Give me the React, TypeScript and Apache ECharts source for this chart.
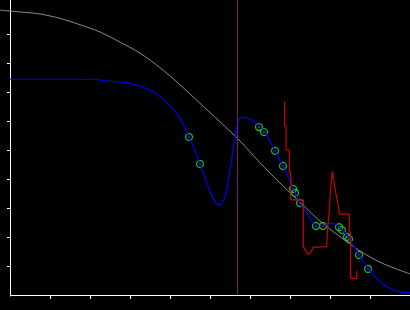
import React, { useEffect, useRef } from "react";
import * as echarts from "echarts";

// Gray reference curve
const grayX = [-0.25, 0.25, 0.75, 1.25, 1.75, 2.25, 2.75, 3.25, 3.75, 4.25, 4.75, 5.25, 5.75, 6.25, 6.75, 7.25, 7.75, 8.25, 8.75, 9.25, 9.75, 10];
const grayY = [9.82, 9.76, 9.69, 9.54, 9.32, 9.07, 8.72, 8.34, 7.84, 7.25, 6.61, 5.97, 5.31, 4.56, 3.86, 3.2, 2.55, 2.01, 1.52, 1.13, 0.85, 0.73];

// Blue fitted curve
const blueX = [0, 1, 2, 2.5, 3, 3.5, 3.75, 4, 4.25, 4.5, 4.75, 4.875, 5, 5.125, 5.25, 5.375, 5.45, 5.525, 5.6, 5.675, 5.75, 5.85, 6, 6.2, 6.375, 6.5, 6.625, 6.75, 6.875, 7.075, 7.25, 7.5, 7.65, 7.825, 8, 8.15, 8.25, 8.375, 8.5, 8.625, 8.75, 8.875, 9, 9.25, 9.5, 9.75, 10];
const blueY = [7.44, 7.44, 7.44, 7.37, 7.3, 7.07, 6.84, 6.52, 6.09, 5.38, 4.52, 4.03, 3.56, 3.22, 3.1, 3.39, 3.86, 4.54, 5.23, 5.8, 6.09, 6.13, 6.06, 5.86, 5.63, 5.31, 4.97, 4.63, 4.33, 3.66, 3.17, 2.66, 2.38, 2.38, 2.47, 2.43, 2.31, 2.14, 1.9, 1.62, 1.33, 1.07, 0.83, 0.46, 0.23, 0.11, 0.08];

// Red step-like line
const redX = [6.8625, 6.8625, 6.9, 6.9, 6.9825, 6.9825, 7.0175, 7.0175, 7.3325, 7.3325, 7.4, 7.4575, 7.5125, 7.575, 7.9175, 7.9375, 7.9825, 8.0125, 8.0575, 8.1, 8.15, 8.2, 8.2375, 8.4825, 8.4825, 8.5125, 8.5125, 8.6675, 8.6675];
const redY = [6.67, 5.84, 5.84, 5.0, 5.0, 4.24, 4.24, 3.28, 3.28, 1.67, 1.52, 1.4, 1.45, 1.64, 1.67, 2.24, 2.93, 3.62, 4.26, 3.93, 3.48, 3.14, 2.79, 2.79, 2.17, 2.17, 0.57, 0.57, 0.83];

// Green observation points
const ptsX = [4.475, 4.75, 6.225, 6.35, 6.625, 6.825, 7.075, 7.125, 7.25, 7.65, 7.825, 8.225, 8.3, 8.425, 8.475, 8.725, 8.95];
const ptsY = [5.45, 4.52, 5.79, 5.62, 4.97, 4.45, 3.66, 3.52, 3.17, 2.38, 2.38, 2.34, 2.24, 2.0, 1.93, 1.38, 0.9];

const markerX = 5.675;
const tickValues = [1, 2, 3, 4, 5, 6, 7, 8, 9];
const xStart = 0;
const xEnd = 10;
const unitPx = 29;
const baseY = -0.5 / unitPx;

const zip = (xs: number[], ys: number[]) => xs.map((x, i) => [x, ys[i]]);

export default function App() {
  const ref = useRef<HTMLDivElement>(null);
  useEffect(() => {
    if (!ref.current) return;
    const chart = echarts.init(ref.current, null, { renderer: "svg" });
    chart.setOption({
      animation: false,
      backgroundColor: "#000000",
      grid: { left: 0, right: 0, top: 0, bottom: 14, containLabel: false },
      xAxis: {
        type: "value",
        min: -0.25,
        max: 10,
        splitLine: { show: false },
        axisLabel: { show: false },
        axisLine: { show: false, onZero: true },
        axisTick: { show: true, length: 4, customValues: tickValues, lineStyle: { color: "#ffffff", width: 1 } },
      },
      yAxis: {
        type: "value",
        min: -1 / unitPx,
        max: 295 / unitPx,
        splitLine: { show: false },
        axisLabel: { show: false },
        axisLine: { show: true, onZero: true, lineStyle: { color: "#ffffff", width: 1 } },
        axisTick: { show: true, length: 3, customValues: tickValues, lineStyle: { color: "#ffffff", width: 1 } },
      },
      series: [
        {
          type: "line",
          data: zip(grayX, grayY),
          showSymbol: false,
          smooth: 0.3,
          lineStyle: { color: "#8a8a8a", width: 1 },
          markLine: {
            silent: true,
            symbol: ["none", "none"],
            label: { show: false },
            lineStyle: { color: "#6e1f6e", width: 1, type: "solid" },
            data: [[{ coord: [markerX, 0] }, { coord: [markerX, 295 / unitPx] }]],
          },
        },
        {
          type: "line",
          data: zip(blueX, blueY),
          showSymbol: false,
          smooth: 0.3,
          lineStyle: { color: "#0000ee", width: 1.2 },
          markLine: {
            silent: true,
            symbol: ["none", "none"],
            label: { show: false },
            lineStyle: { color: "#ffffff", width: 1, type: "solid" },
            data: [[{ coord: [xStart, baseY] }, { coord: [xEnd, baseY] }]],
          },
        },
        {
          type: "line",
          data: zip(redX, redY),
          showSymbol: false,
          smooth: false,
          lineStyle: { color: "#cc0000", width: 1.2 },
        },
        {
          type: "scatter",
          data: zip(ptsX, ptsY),
          symbol: "circle",
          symbolSize: 7,
          itemStyle: { color: "transparent", borderColor: "#22ee22", borderWidth: 1.2 },
        },
        {
          type: "scatter",
          data: zip(ptsX, ptsY),
          symbol: "circle",
          symbolSize: 1.5,
          itemStyle: { color: "#22ee22" },
        },
      ],
    });
    return () => chart.dispose();
  }, []);
  return (
    <div
      ref={ref}
      style={{ position: "absolute", left: 0, top: 0, width: 410, height: 310 }}
    />
  );
}
